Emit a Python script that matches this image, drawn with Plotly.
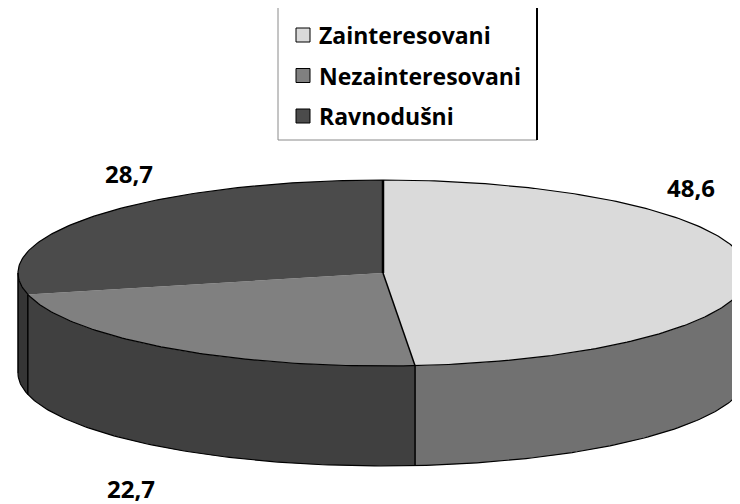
import numpy as np
import plotly.graph_objects as go

# ---- data ----
CATEGORIES = ["Zainteresovani", "Nezainteresovani", "Ravnodušni"]
VALUES = [48.6, 22.7, 28.7]
VALUE_LABELS = ["48,6", "22,7", "28,7"]

# ---- style ----
TOP_COLORS = ["#DADADA", "#808080", "#4B4B4B"]
SIDE_COLORS = ["#717171", "#404040", "#353535"]
LABEL_XY = [(691, 187), (131, 488), (129, 173)]
CX, CY, RX, RY, DEPTH = 383, 273, 365, 93, 100
FONT = "Open Sans"
PAGE_OFFSET = 8  # default body margin of the html page


def rim(t_deg, dy=0.0):
    t = np.radians(np.asarray(t_deg, dtype=float))
    return CX + RX * np.sin(t), CY - RY * np.cos(t) + dy


total = sum(VALUES)
bounds = np.concatenate([[0.0], np.cumsum(VALUES) / total * 360.0])

fig = go.Figure()

# side walls (front half only: 90..270 deg clockwise from top)
for i in range(len(VALUES)):
    lo, hi = max(bounds[i], 90.0), min(bounds[i + 1], 270.0)
    if hi <= lo:
        continue
    t = np.linspace(lo, hi, 120)
    xt, yt = rim(t)
    xb, yb = rim(t[::-1], DEPTH)
    fig.add_trace(go.Scatter(
        x=np.concatenate([xt, xb]), y=np.concatenate([yt, yb]),
        fill="toself", fillcolor=SIDE_COLORS[i], mode="lines",
        line=dict(width=0), hoverinfo="skip", showlegend=False))

# top faces
for i in range(len(VALUES)):
    t = np.linspace(bounds[i], bounds[i + 1], 200)
    xt, yt = rim(t)
    fig.add_trace(go.Scatter(
        x=np.concatenate([[CX], xt, [CX]]), y=np.concatenate([[CY], yt, [CY]]),
        fill="toself", fillcolor=TOP_COLORS[i], mode="lines",
        line=dict(width=0), hoverinfo="skip", showlegend=False))

# outlines
t = np.linspace(0, 360, 400)
xo, yo = rim(t)
fig.add_trace(go.Scatter(x=xo, y=yo, mode="lines", line=dict(color="black", width=1.2),
                         hoverinfo="skip", showlegend=False))
t = np.linspace(90, 270, 200)
xo, yo = rim(t, DEPTH)
fig.add_trace(go.Scatter(x=xo, y=yo, mode="lines", line=dict(color="black", width=1.2),
                         hoverinfo="skip", showlegend=False))
for ang in [b for b in bounds[1:-1] if 90 < b < 270] + [270.0]:
    x0, y0 = rim(ang)
    x1, y1 = rim(ang, DEPTH)
    fig.add_trace(go.Scatter(x=[x0, x1], y=[y0, y1], mode="lines",
                             line=dict(color="black", width=1.5),
                             hoverinfo="skip", showlegend=False))
for ang, w in [(0.0, 2.5), (bounds[1], 1.5)]:
    x1, y1 = rim(ang)
    fig.add_trace(go.Scatter(x=[CX, x1], y=[CY, y1], mode="lines",
                             line=dict(color="black", width=w),
                             hoverinfo="skip", showlegend=False))

# value labels
for (lx, ly), txt in zip(LABEL_XY, VALUE_LABELS):
    fig.add_annotation(x=lx, y=ly, text="<b>%s</b>" % txt, showarrow=False,
                       xanchor="center", yanchor="middle",
                       font=dict(family=FONT, size=24, color="black"))

# legend (manual)
fig.add_shape(type="rect", x0=278, x1=537, y0=-5, y1=140, xref="x", yref="y",
              line=dict(color="#8a8a8a", width=1), fillcolor="white", layer="below")
fig.add_shape(type="line", x0=537, x1=537, y0=-5, y1=140, xref="x", yref="y",
              line=dict(color="black", width=2))
for k, (name, col) in enumerate(zip(CATEGORIES, TOP_COLORS)):
    yc = 35 + 40.5 * k
    fig.add_shape(type="rect", x0=296, x1=310, y0=yc - 7, y1=yc + 7, xref="x", yref="y",
                  line=dict(color="black", width=1), fillcolor=col)
    fig.add_annotation(x=317, y=yc, text="<b>%s</b>" % name, showarrow=False,
                       xanchor="left", yanchor="middle",
                       font=dict(family=FONT, size=23, color="black"))

fig.update_layout(
    width=740 - PAGE_OFFSET, height=504 - PAGE_OFFSET,
    margin=dict(l=0, r=0, t=0, b=0),
    paper_bgcolor="white", plot_bgcolor="white",
    xaxis=dict(range=[PAGE_OFFSET, 740], visible=False, fixedrange=True),
    yaxis=dict(range=[504, PAGE_OFFSET], visible=False, fixedrange=True),
    showlegend=False,
)

fig.write_html("out.html")
